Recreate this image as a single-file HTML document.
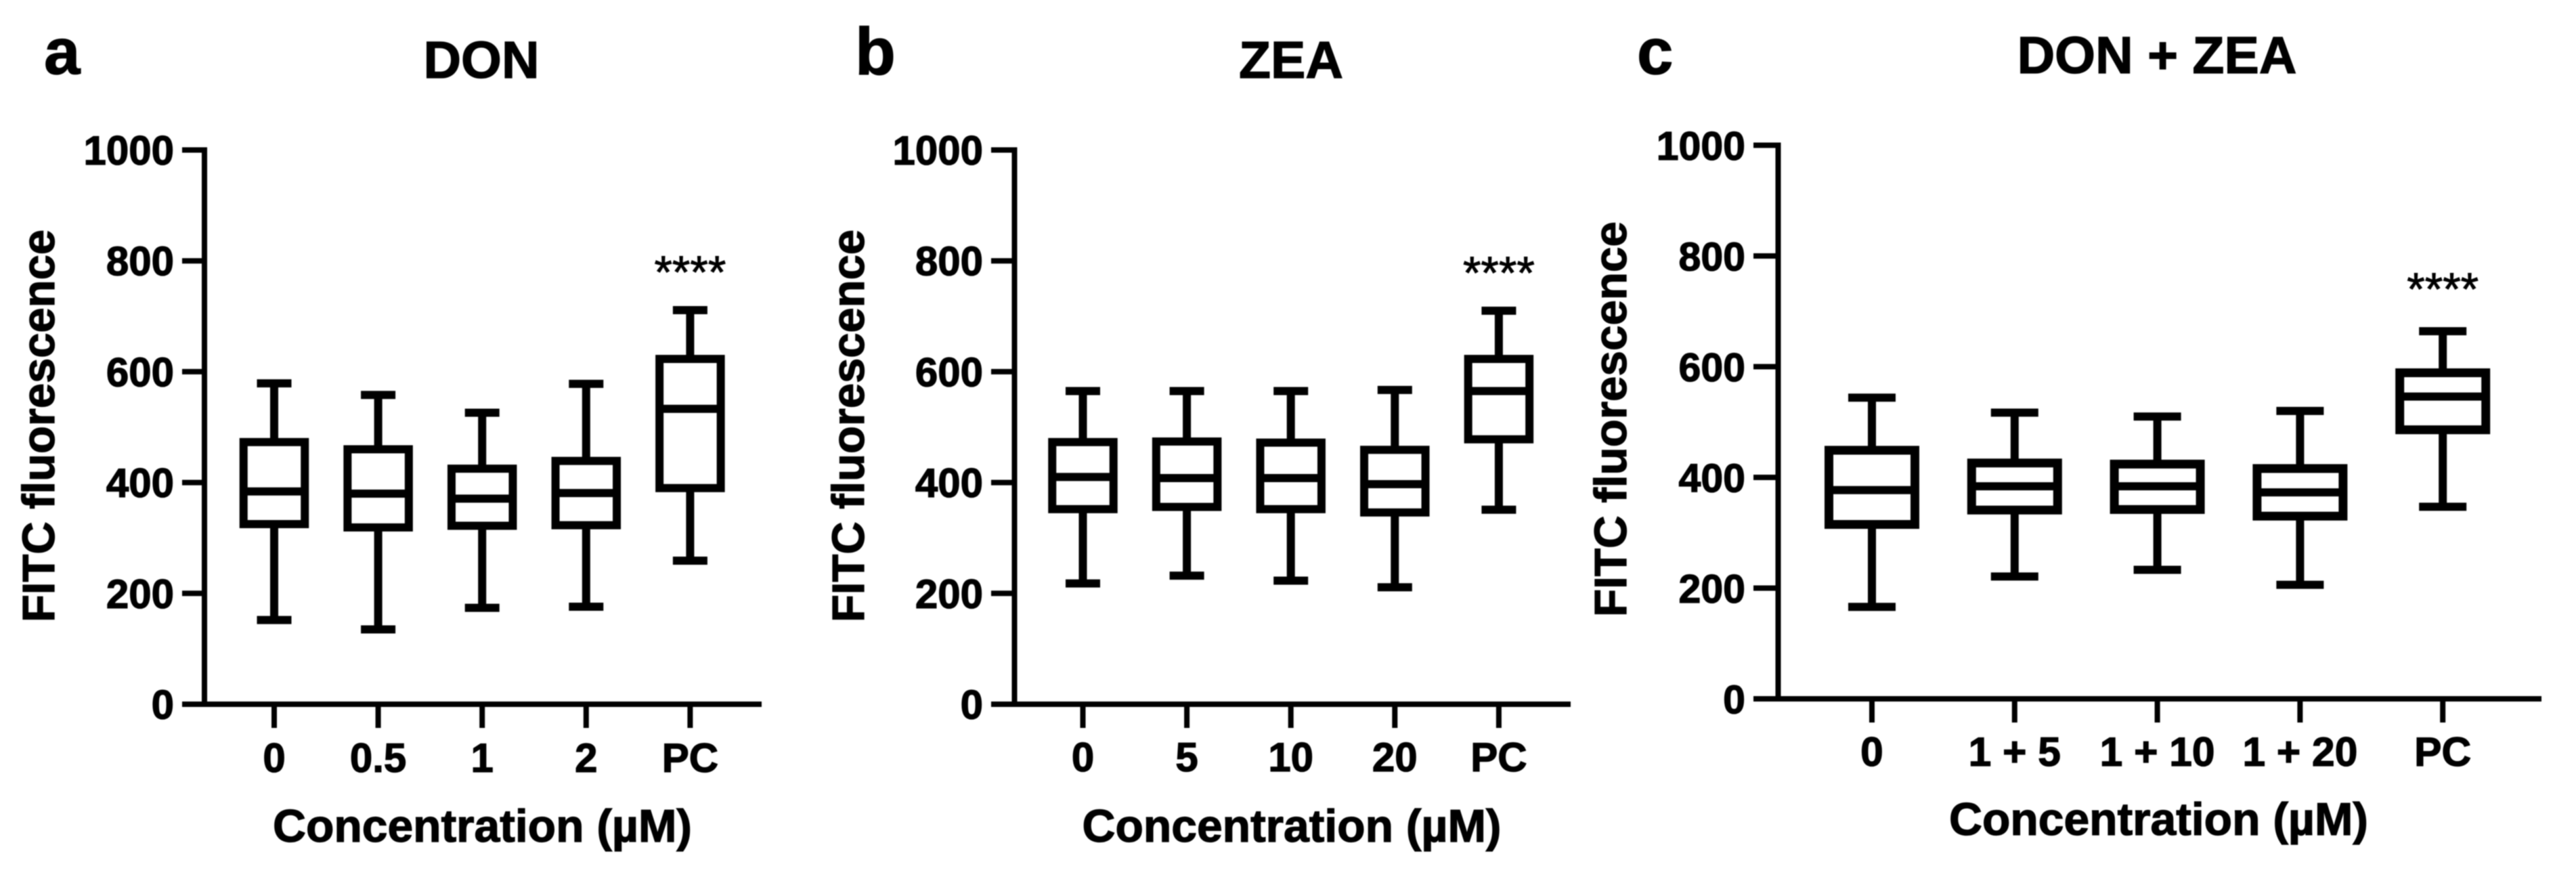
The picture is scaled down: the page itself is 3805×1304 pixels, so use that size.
<!DOCTYPE html>
<html lang="en">
<head>
<meta charset="utf-8">
<title>FITC fluorescence box plots</title>
<style>
html,body{margin:0;padding:0;background:#fff;width:3805px;height:1304px;overflow:hidden}
svg{display:block;filter:blur(0.7px)}
text{font-family:"Liberation Sans",Arial,sans-serif;fill:#000}
.b{font-weight:bold;stroke:#000;stroke-width:1.3px}
.s{stroke:#000;stroke-width:1px}
</style>
</head>
<body>
<svg id="figure" xmlns="http://www.w3.org/2000/svg" width="3805" height="1304" viewBox="0 0 3805 1304">
  <rect x="0" y="0" width="3805" height="1304" fill="#fff"/>

  <g id="panel-a">
    <text class="b" x="65" y="109" font-size="96">a</text>
    <text class="b" x="711" y="115" font-size="77" text-anchor="middle">DON</text>
    <text class="b" transform="translate(80 629) rotate(-90)" font-size="67" text-anchor="middle" textLength="580" lengthAdjust="spacingAndGlyphs">FITC fluorescence</text>
    <text class="b" x="712.5" y="1243" font-size="67.8" text-anchor="middle" textLength="619" lengthAdjust="spacingAndGlyphs">Concentration (µM)</text>
  </g>

  <g id="panel-b">
    <text class="b" x="1263" y="110" font-size="98">b</text>
    <text class="b" x="1907" y="115" font-size="77" text-anchor="middle">ZEA</text>
    <text class="b" transform="translate(1276 629) rotate(-90)" font-size="67" text-anchor="middle" textLength="580" lengthAdjust="spacingAndGlyphs">FITC fluorescence</text>
    <text class="b" x="1908" y="1243" font-size="67.8" text-anchor="middle" textLength="619" lengthAdjust="spacingAndGlyphs">Concentration (µM)</text>
  </g>

  <g id="panel-c">
    <text class="b" x="2418" y="109" font-size="96">c</text>
    <text class="b" x="3186" y="108" font-size="77" text-anchor="middle">DON + ZEA</text>
    <text class="b" transform="translate(2402 619) rotate(-90)" font-size="67" text-anchor="middle" textLength="584" lengthAdjust="spacingAndGlyphs">FITC fluorescence</text>
    <text class="b" x="3188.5" y="1233" font-size="67.8" text-anchor="middle" textLength="619" lengthAdjust="spacingAndGlyphs">Concentration (µM)</text>
  </g>
</svg>

<script>
// ---- shared axis data ----
const yTickValues = [0, 200, 400, 600, 800, 1000];
const significanceLabel = '****';

// ---- panel a: DON ----
const donCategories = ['0', '0.5', '1', '2', 'PC'];
const donWhiskerLow = [152, 135, 174, 176, 259];
const donQ1 = [325, 319, 322, 323, 390];
const donMedian = [384, 380, 371, 381, 533];
const donQ3 = [473, 460, 425, 439, 623];
const donWhiskerHigh = [579, 558, 526, 578, 711];

// ---- panel b: ZEA ----
const zeaCategories = ['0', '5', '10', '20', 'PC'];
const zeaWhiskerLow = [218, 232, 223, 211, 351];
const zeaQ1 = [352, 356, 352, 346, 478];
const zeaMedian = [410, 408, 408, 397, 565];
const zeaQ3 = [473, 474, 472, 459, 623];
const zeaWhiskerHigh = [565, 565, 565, 567, 710];

// ---- panel c: DON + ZEA ----
const mixCategories = ['0', '1 + 5', '1 + 10', '1 + 20', 'PC'];
const mixWhiskerLow = [166, 221, 233, 206, 347];
const mixQ1 = [315, 341, 342, 330, 486];
const mixMedian = [377, 384, 384, 373, 546];
const mixQ3 = [449, 426, 424, 416, 589];
const mixWhiskerHigh = [544, 517, 510, 520, 664];

const SVGNS = 'http://www.w3.org/2000/svg';

function addLine(parent, x1, y1, x2, y2, width) {
  const el = document.createElementNS(SVGNS, 'line');
  el.setAttribute('x1', x1);
  el.setAttribute('y1', y1);
  el.setAttribute('x2', x2);
  el.setAttribute('y2', y2);
  el.setAttribute('stroke', '#000');
  el.setAttribute('stroke-width', width);
  parent.appendChild(el);
  return el;
}

function addText(parent, x, y, size, anchor, content, cls) {
  const el = document.createElementNS(SVGNS, 'text');
  el.setAttribute('x', x);
  el.setAttribute('y', y);
  el.setAttribute('font-size', size);
  el.setAttribute('text-anchor', anchor);
  el.setAttribute('class', cls);
  el.textContent = content;
  parent.appendChild(el);
  return el;
}

function drawPanel(layout, categories, low, q1, median, q3, high) {
  const root = document.getElementById(layout.id);
  const yScale = function (v) { return layout.yZero - v * layout.yPerUnit; };
  const xScale = function (i) { return layout.xFirst + i * layout.xStep; };
  const yTop = yScale(yTickValues[yTickValues.length - 1]);
  const yBottom = yScale(0);

  // axes
  const yAxis = addLine(root, layout.axisX, yTop - 4, layout.axisX, yBottom + 4, 8);
  
  
  const xAxis = addLine(root, layout.axisLeft, yBottom, layout.axisRight, yBottom, 8);
  
  

  // y ticks
  yTickValues.forEach(function (v) {
    const tick = addLine(root, layout.axisLeft, yScale(v), layout.axisX, yScale(v), 8);
    
    
    const label = addText(root, layout.axisLeft - 12, yScale(v) + layout.yLabelDrop, layout.yLabelSize, 'end', String(v), 'b');
    
    
  });

  // categories
  categories.forEach(function (cat, i) {
    const cx = xScale(i);
    const tick = addLine(root, cx, yBottom, cx, yBottom + 35, 8);
    
    
    const label = addText(root, cx, layout.xLabelY, layout.xLabelSize, 'middle', cat, 'b');
    
    

    const g = document.createElementNS(SVGNS, 'g');
    
    
    root.appendChild(g);

    const sw = 12;
    const hw = layout.boxWidth / 2;
    const cw = layout.capWidth / 2;
    const stemTop = addLine(g, cx, yScale(high[i]), cx, yScale(q3[i]), sw);
    
    
    const stemLow = addLine(g, cx, yScale(q1[i]), cx, yScale(low[i]), sw);
    
    
    const capTop = addLine(g, cx - cw, yScale(high[i]), cx + cw, yScale(high[i]), sw);
    
    
    const capLow = addLine(g, cx - cw, yScale(low[i]), cx + cw, yScale(low[i]), sw);
    
    

    const box = document.createElementNS(SVGNS, 'rect');
    box.setAttribute('x', cx - hw);
    box.setAttribute('y', yScale(q3[i]));
    box.setAttribute('width', layout.boxWidth);
    box.setAttribute('height', yScale(q1[i]) - yScale(q3[i]));
    box.setAttribute('fill', '#fff');
    box.setAttribute('stroke', '#000');
    box.setAttribute('stroke-width', layout.boxStroke);
    
    
    g.appendChild(box);

    const med = addLine(g, cx - hw, yScale(median[i]), cx + hw, yScale(median[i]), sw);
    
    
  });

  // significance marker above the last group
  const last = categories.length - 1;
  const stars = addText(root, xScale(last), yScale(high[last]) + layout.starOffset, 68, 'middle', significanceLabel, 's');
  
  
}

drawPanel({id: 'panel-a', yZero: 1040, yPerUnit: 0.8185, xFirst: 405, xStep: 153.6, axisX: 302, axisLeft: 269, axisRight: 1125,
  boxWidth: 90.5, boxStroke: 12, capWidth: 51, yLabelDrop: 21.5, yLabelSize: 60, xLabelY: 1140, xLabelSize: 60, starOffset: -33},
  donCategories, donWhiskerLow, donQ1, donMedian, donQ3, donWhiskerHigh);

drawPanel({id: 'panel-b', yZero: 1040, yPerUnit: 0.8185, xFirst: 1599.5, xStep: 153.6, axisX: 1498.5, axisLeft: 1464, axisRight: 2320,
  boxWidth: 90.5, boxStroke: 12, capWidth: 51, yLabelDrop: 21.5, yLabelSize: 60, xLabelY: 1139, xLabelSize: 60, starOffset: -33},
  zeaCategories, zeaWhiskerLow, zeaQ1, zeaMedian, zeaQ3, zeaWhiskerHigh);

drawPanel({id: 'panel-c', yZero: 1032, yPerUnit: 0.8175, xFirst: 2765, xStep: 210.8, axisX: 2626.5, axisLeft: 2590, axisRight: 3754,
  boxWidth: 127, boxStroke: 13, capWidth: 70, yLabelDrop: 21.5, yLabelSize: 59, xLabelY: 1131, xLabelSize: 60.5, starOffset: -39},
  mixCategories, mixWhiskerLow, mixQ1, mixMedian, mixQ3, mixWhiskerHigh);
</script>
</body>
</html>
